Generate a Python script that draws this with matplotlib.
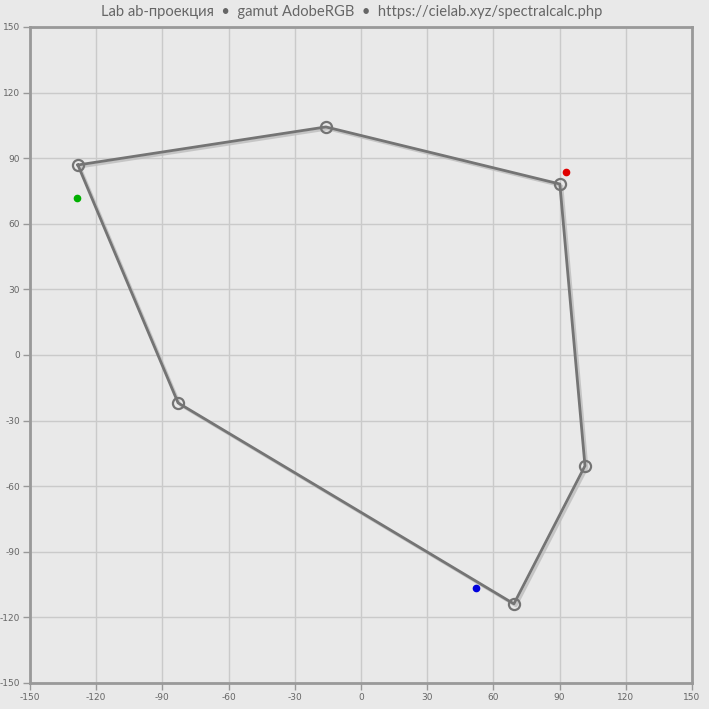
import matplotlib
matplotlib.use("Agg")
import matplotlib.pyplot as plt
import matplotlib.patheffects as pe

# Gamut polygon vertices (a*, b*)
gamut_a = [-128.3, -15.9, 90.1, 101.5, 69.3, -82.9]
gamut_b = [86.9, 104.3, 78.2, -50.7, -113.8, -21.9]

# Primary points
prim_names = ["R", "G", "B"]
prim_a = [92.9, -128.7, 52.1]
prim_b = [83.7, 71.8, -106.5]
prim_colors = ["#e00000", "#00b000", "#0000dd"]

ticks = [-150, -120, -90, -60, -30, 0, 30, 60, 90, 120, 150]
title = "Lab ab-проекция  •  gamut AdobeRGB  •  https://cielab.xyz/spectralcalc.php"

bg = "#e9e9e9"
fig = plt.figure(figsize=(7.09, 7.09), dpi=100, facecolor=bg)
ax = fig.add_axes([30/709, 1-683/709, 662/709, 656/709])
ax.set_facecolor(bg)
ax.set_xlim(-150, 150)
ax.set_ylim(-150, 150)
ax.set_xticks(ticks)
ax.set_yticks(ticks)
ax.set_xticklabels([str(t) for t in ticks])
ax.set_yticklabels([str(t) for t in ticks])
ax.grid(True, color="#cacaca", linewidth=1.0)
ax.set_axisbelow(True)
for s in ax.spines.values():
    s.set_color("#999999")
    s.set_linewidth(2.0)
ax.tick_params(axis="both", colors="#999999", labelcolor="#666666", labelsize=6.5,
               length=5, width=1.0, pad=2)

xs = gamut_a + [gamut_a[0]]
ys = gamut_b + [gamut_b[0]]
ax.plot(xs, ys, color="#747474", linewidth=2.0, zorder=3,
        path_effects=[pe.SimpleLineShadow(offset=(1.5, -1.5), shadow_color="#bdbdbd", alpha=0.8),
                      pe.Normal()])
ax.plot(gamut_a, gamut_b, linestyle="none", marker="o", markersize=8,
        markerfacecolor="none", markeredgecolor="#747474", markeredgewidth=1.6, zorder=4)

for a, b, c in zip(prim_a, prim_b, prim_colors):
    ax.plot([a], [b], marker="o", markersize=4.5, color=c, markeredgecolor=c, zorder=5)

fig.text(352/709, 1-12/709, title, ha="center", va="center", fontsize=10.6,
         color="#666666", family=["Lato", "DejaVu Sans"])

fig.savefig("out.png", dpi=100, facecolor=bg)
